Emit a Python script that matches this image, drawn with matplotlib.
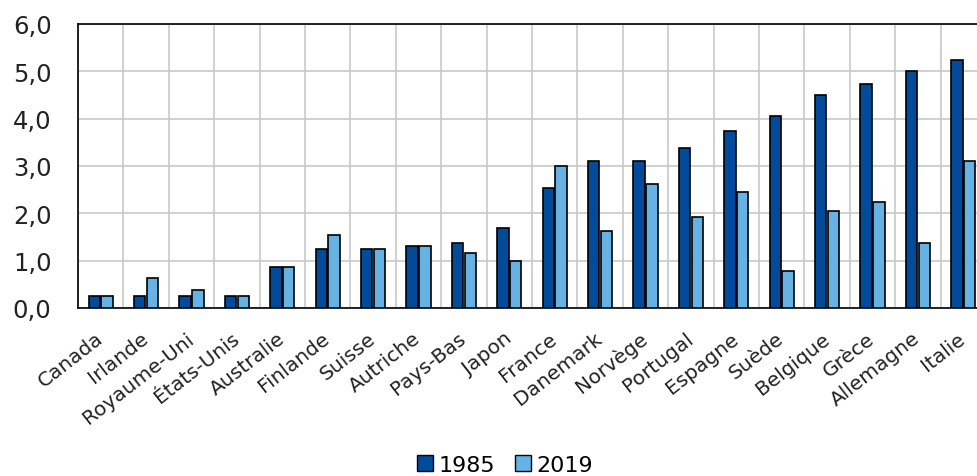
import matplotlib
matplotlib.use("Agg")
import matplotlib.pyplot as plt
import numpy as np
from matplotlib.patches import Patch

plt.rcParams['font.family'] = ['DejaVu Sans']

categories = ["Canada", "Irlande", "Royaume-Uni", "États-Unis", "Australie", "Finlande",
              "Suisse", "Autriche", "Pays-Bas", "Japon", "France", "Danemark", "Norvège",
              "Portugal", "Espagne", "Suède", "Belgique", "Grèce", "Allemagne", "Italie"]
v1985 = [0.25, 0.25, 0.25, 0.25, 0.87, 1.25, 1.25, 1.30, 1.37, 1.68, 2.54, 3.11, 3.11,
         3.37, 3.74, 4.06, 4.49, 4.74, 5.00, 5.24]
v2019 = [0.25, 0.63, 0.37, 0.25, 0.87, 1.54, 1.25, 1.30, 1.17, 1.00, 3.00, 1.62, 2.62,
         1.92, 2.46, 0.79, 2.05, 2.25, 1.37, 3.11]
yticks = [0, 1, 2, 3, 4, 5, 6]

dark = '#024A9A'
light = '#66B2E4'
txt = '#222222'

fig = plt.figure(figsize=(9.77, 4.77), dpi=100)
# axes extends slightly past the right edge like in the reference
ax = fig.add_axes([78/977, 1-309/477, 908/977, 284/477])

x = np.arange(len(categories))
w = 0.25
off = 0.14
ax.bar(x - off, v1985, width=w, color=dark, edgecolor='black', linewidth=1.2, zorder=3, label='1985')
ax.bar(x + off, v2019, width=w, color=light, edgecolor='black', linewidth=1.2, zorder=3, label='2019')

ax.set_xlim(-0.5, len(categories) - 0.5)
ax.set_ylim(0, 6)
ax.set_yticks(yticks)
ax.set_yticklabels([f"{t:.1f}".replace('.', ',') for t in yticks], fontsize=17.5, color=txt)
ax.set_xticks(x)
ax.set_xticklabels(categories, rotation=38, ha='right', va='center', rotation_mode='anchor',
                   fontsize=14.5, color=txt)
ax.tick_params(axis='x', length=0, pad=20)
ax.tick_params(axis='y', length=0, pad=19)

# gridlines
ax.set_xticks(np.arange(-0.5, len(categories), 1), minor=True)
ax.grid(axis='x', which='minor', color='#C8C8C8', linewidth=1.2, zorder=0)
ax.grid(axis='y', which='major', color='#C8C8C8', linewidth=1.2, zorder=0)
ax.grid(axis='x', which='major', visible=False)
ax.tick_params(which='minor', length=0)

for s in ['left', 'top', 'bottom']:
    ax.spines[s].set_color('black')
    ax.spines[s].set_linewidth(1.2)
ax.spines['right'].set_visible(False)

handles = [Patch(facecolor=dark, edgecolor='black', label='1985'),
           Patch(facecolor=light, edgecolor='black', label='2019')]
fig.legend(handles=handles, loc='center', bbox_to_anchor=(505/977, 1-466/477), ncol=2,
           frameon=False, fontsize=16, handlelength=0.7, handleheight=0.7,
           handletextpad=0.25, columnspacing=0.9)

fig.savefig('out.png', dpi=100)
